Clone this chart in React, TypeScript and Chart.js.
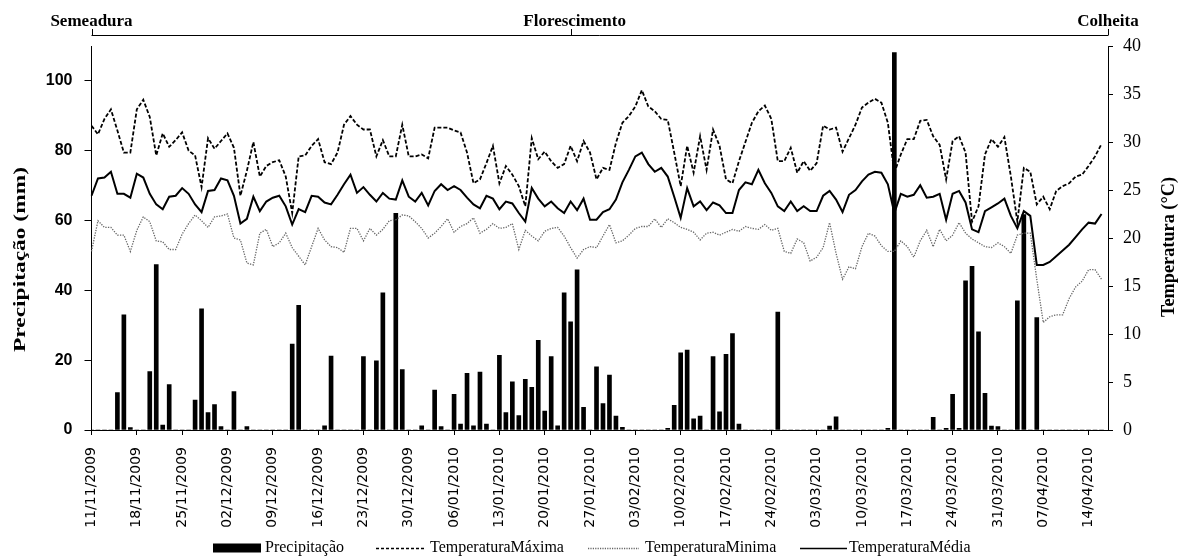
import React, { useEffect, useRef } from 'react';
import { Chart, registerables } from 'chart.js';

Chart.register(...registerables);

// ---- categories (daily, 11/11/2009 .. 17/04/2010) ----
const FIRST_DAY = [2009, 10, 11]; // year, monthIndex, day
const DAY_COUNT = 158;
function buildDateLabels(): string[] {
  const out: string[] = [];
  for (let i = 0; i < DAY_COUNT; i++) {
    const d = new Date(FIRST_DAY[0], FIRST_DAY[1], FIRST_DAY[2] + i);
    const dd = String(d.getDate()).padStart(2, '0');
    const mm = String(d.getMonth() + 1).padStart(2, '0');
    out.push(`${dd}/${mm}/${d.getFullYear()}`);
  }
  return out;
}
const DATE_LABELS = buildDateLabels();
const TICK_EVERY = 7;

// ---- series ----
const PRECIP = [
  0, 0, 0, 0, 10.7, 33.0, 0.7, 0, 0, 16.7,
  47.4, 1.4, 13.0, 0, 0, 0, 8.6, 34.7, 5.0, 7.3,
  1.0, 0, 11.0, 0, 1.0, 0, 0, 0, 0, 0,
  0, 24.6, 35.7, 0, 0, 0, 1.2, 21.2, 0, 0,
  0, 0, 21.0, 0, 19.8, 39.3, 0, 62.1, 17.3, 0,
  0, 1.2, 0, 11.4, 1.0, 0, 10.2, 1.7, 16.2, 1.2,
  16.6, 1.7, 0, 21.4, 5.0, 13.8, 4.1, 14.5, 12.2, 25.7,
  5.4, 21.0, 1.2, 39.3, 31.0, 45.9, 6.5, 0, 18.1, 7.6,
  15.7, 4.0, 0.8, 0, 0, 0, 0, 0, 0, 0.5,
  7.1, 22.1, 22.9, 3.2, 4.0, 0, 21.0, 5.2, 21.7, 27.6,
  1.7, 0, 0, 0, 0, 0, 33.8, 0, 0, 0,
  0, 0, 0, 0, 1.1, 3.8, 0, 0, 0, 0,
  0, 0, 0, 0.5, 108.1, 0, 0, 0, 0, 0,
  3.6, 0, 0.5, 10.2, 0.5, 42.7, 46.9, 28.1, 10.5, 1.1,
  1.0, 0, 0, 37.0, 61.7, 0, 32.2, 0, 0, 0,
  0, 0, 0, 0, 0, 0, 0, null,
];

const TEMP_MAX = [
  31.7, 30.8, 32.4, 33.4, 31.2, 28.9, 28.9, 33.4, 34.4, 32.6,
  28.6, 30.9, 29.5, 30.2, 31.0, 29.1, 28.6, 25.3, 30.4, 29.3,
  30.1, 30.9, 29.4, 24.4, 27.0, 30.0, 26.4, 27.5, 27.9, 28.1,
  26.4, 22.6, 28.5, 28.6, 29.6, 30.3, 27.9, 27.7, 28.9, 31.8,
  32.7, 31.8, 31.3, 31.3, 28.5, 30.2, 28.5, 28.5, 31.8, 28.5,
  28.5, 28.7, 28.3, 31.5, 31.5, 31.5, 31.2, 31.0, 28.9, 25.7,
  26.1, 27.8, 29.6, 25.7, 27.5, 26.6, 25.4, 23.3, 30.4, 28.2,
  29.0, 28.0, 27.3, 27.7, 29.6, 28.0, 30.1, 28.9, 26.1, 27.3,
  27.1, 29.9, 32.0, 32.7, 33.7, 35.4, 33.7, 33.2, 32.4, 32.3,
  28.9, 25.4, 29.6, 26.8, 30.6, 27.1, 31.3, 29.6, 26.1, 25.7,
  28.0, 30.0, 32.0, 33.2, 33.8, 32.4, 28.0, 28.0, 29.4, 26.8,
  28.0, 27.0, 27.8, 31.7, 31.3, 31.5, 29.0, 30.4, 31.8, 33.6,
  34.1, 34.5, 34.1, 32.0, 26.8, 28.7, 30.3, 30.3, 32.2, 32.3,
  30.6, 29.7, 26.1, 30.1, 30.6, 28.9, 21.7, 23.3, 28.7, 30.3,
  29.5, 30.5, 26.4, 21.7, 27.3, 26.9, 23.5, 24.3, 23.0, 24.9,
  25.4, 25.7, 26.4, 26.6, 27.5, 28.5, 29.8, null,
];

const TEMP_MIN = [
  18.6, 21.8, 21.1, 21.1, 20.3, 20.3, 18.6, 20.8, 22.2, 21.7,
  19.7, 19.6, 18.8, 18.8, 20.4, 21.5, 22.4, 21.8, 21.1, 22.2,
  22.3, 22.5, 20.0, 19.8, 17.4, 17.2, 20.5, 20.9, 19.1, 19.5,
  20.5, 19.0, 18.1, 17.2, 19.1, 21.0, 19.8, 19.1, 19.0, 18.5,
  21.0, 21.0, 19.7, 21.0, 20.3, 20.9, 21.8, 21.9, 22.4, 22.3,
  21.7, 21.0, 20.0, 20.5, 21.2, 22.0, 20.6, 21.2, 21.5, 22.1,
  20.5, 20.9, 21.5, 21.0, 21.1, 21.5, 18.8, 20.8, 20.2, 19.7,
  20.7, 21.0, 21.1, 20.2, 19.0, 17.9, 18.8, 19.1, 19.0, 20.2,
  21.4, 19.5, 19.7, 20.3, 21.0, 21.2, 21.2, 22.0, 21.1, 22.0,
  21.6, 21.1, 20.9, 20.6, 19.8, 20.5, 20.6, 20.3, 20.6, 20.9,
  20.7, 21.2, 21.0, 20.9, 21.4, 20.8, 21.0, 18.6, 18.4, 19.9,
  19.5, 17.6, 18.0, 19.0, 21.6, 18.4, 15.7, 17.0, 16.8, 19.1,
  20.5, 20.2, 19.2, 18.6, 18.6, 19.7, 19.1, 18.0, 19.7, 20.8,
  19.1, 20.9, 19.7, 20.3, 21.6, 20.5, 19.9, 19.5, 19.1, 19.0,
  19.5, 19.1, 18.4, 20.3, 20.5, 20.5, 15.7, 11.2, 11.8, 12.0,
  12.0, 13.7, 14.9, 15.5, 16.7, 16.7, 15.7, null,
];

const TEMP_MEAN = [
  24.4, 26.2, 26.3, 26.9, 24.6, 24.6, 24.2, 26.7, 26.3, 24.6,
  23.5, 23.0, 24.3, 24.4, 25.2, 24.6, 23.5, 22.7, 24.9, 25.0,
  26.2, 26.0, 24.4, 21.5, 22.0, 24.3, 22.8, 23.8, 24.2, 24.4,
  23.3, 21.4, 23.0, 22.7, 24.4, 24.3, 23.7, 23.5, 24.5, 25.6,
  26.6, 24.7, 25.3, 24.5, 23.8, 24.7, 24.1, 24.0, 26.0, 24.3,
  23.8, 24.7, 23.4, 24.9, 25.6, 25.0, 25.4, 25.0, 24.2, 23.5,
  23.1, 24.4, 24.1, 23.0, 23.8, 23.6, 22.6, 21.7, 25.2, 24.1,
  23.3, 23.8, 23.1, 22.6, 23.8, 22.9, 24.1, 21.9, 21.9, 22.7,
  23.0, 24.0, 25.8, 27.1, 28.5, 28.9, 27.7, 26.9, 27.3, 26.4,
  24.3, 22.1, 25.2, 23.3, 23.8, 22.9, 23.7, 23.4, 22.6, 22.6,
  25.0, 25.8, 25.6, 27.1, 25.7, 24.7, 23.3, 22.8, 23.8, 22.8,
  23.3, 22.8, 22.8, 24.4, 24.9, 24.0, 22.7, 24.5, 25.0, 25.9,
  26.6, 26.9, 26.8, 25.6, 22.6, 24.6, 24.3, 24.5, 25.5, 24.2,
  24.3, 24.6, 21.9, 24.6, 24.9, 23.7, 20.9, 20.6, 22.8, 23.2,
  23.6, 24.1, 22.3, 21.0, 22.8, 22.3, 17.2, 17.2, 17.5, 18.1,
  18.7, 19.3, 20.1, 20.9, 21.6, 21.5, 22.5, null,
];

// ---- annotations / text ----
const STAGE_NAMES = ['Semeadura', 'Florescimento', 'Colheita'];
const STAGE_INDEX = [0, 74, 157];
const SERIES_NAMES = ['Precipitação', 'TemperaturaMáxima', 'TemperaturaMinima', 'TemperaturaMédia'];
const LEFT_TITLE = 'Precipitação (mm)';
const RIGHT_TITLE = 'Temperatura (°C)';

const SERIF = "'Liberation Serif', 'Times New Roman', serif";
const SANS = "'Liberation Sans', Arial, sans-serif";

function drawRotatedText(ctx: CanvasRenderingContext2D, text: string, cx: number, cy: number, font: string, targetLen: number) {
  ctx.save();
  ctx.translate(cx, cy);
  ctx.rotate(-Math.PI / 2);
  ctx.font = font;
  const w = ctx.measureText(text).width;
  ctx.scale(targetLen / w, 1);
  ctx.textAlign = 'center';
  ctx.textBaseline = 'middle';
  ctx.fillStyle = '#000';
  ctx.fillText(text, 0, 0);
  ctx.restore();
}

const decorPlugin = {
  id: 'decor',
  afterDraw(chart: any) {
    const ctx: CanvasRenderingContext2D = chart.ctx;
    const xs = STAGE_INDEX.map((i) => chart.scales.x.getPixelForValue(i));
    ctx.save();
    // stage bracket
    ctx.strokeStyle = '#000';
    ctx.lineWidth = 1;
    ctx.setLineDash([]);
    ctx.beginPath();
    ctx.moveTo(xs[0], 35.5);
    ctx.lineTo(xs[2], 35.5);
    xs.forEach((px) => {
      ctx.moveTo(Math.round(px) + 0.5, 35.5);
      ctx.lineTo(Math.round(px) + 0.5, 29);
    });
    ctx.stroke();
    ctx.fillStyle = '#000';
    ctx.font = `bold 17px ${SERIF}`;
    ctx.textAlign = 'center';
    ctx.textBaseline = 'alphabetic';
    STAGE_NAMES.forEach((s, k) => ctx.fillText(s, xs[k] + (k === 1 ? 4 : 0), 26));

    // axis titles
    drawRotatedText(ctx, LEFT_TITLE, 20.8, 259.5, `bold 17px ${SERIF}`, 185);
    drawRotatedText(ctx, RIGHT_TITLE, 1169, 247, `bold 18px ${SERIF}`, 140);

    // legend
    const ly = 548;
    ctx.font = `16px ${SERIF}`;
    ctx.textAlign = 'left';
    ctx.textBaseline = 'middle';
    ctx.fillStyle = '#000';
    ctx.fillRect(213, 543.5, 48, 9);
    ctx.fillText(SERIES_NAMES[0], 265, ly);

    ctx.strokeStyle = '#000';
    ctx.lineWidth = 1.5;
    ctx.setLineDash([3, 2]);
    ctx.beginPath();
    ctx.moveTo(376, ly + 0.5);
    ctx.lineTo(424, ly + 0.5);
    ctx.stroke();
    ctx.fillText(SERIES_NAMES[1], 430, ly);

    ctx.strokeStyle = '#666';
    ctx.lineWidth = 1.3;
    ctx.setLineDash([1.2, 1.2]);
    ctx.beginPath();
    ctx.moveTo(588, ly + 0.5);
    ctx.lineTo(639, ly + 0.5);
    ctx.stroke();
    ctx.fillText(SERIES_NAMES[2], 645, ly);

    ctx.strokeStyle = '#000';
    ctx.lineWidth = 1.7;
    ctx.setLineDash([]);
    ctx.beginPath();
    ctx.moveTo(800, ly + 0.5);
    ctx.lineTo(847, ly + 0.5);
    ctx.stroke();
    ctx.fillText(SERIES_NAMES[3], 849, ly);
    ctx.restore();
  },
};

export default function App() {
  const ref = useRef<HTMLCanvasElement | null>(null);

  useEffect(() => {
    document.body.style.margin = '0';
    document.body.style.overflow = 'hidden';
    const canvas = ref.current;
    if (!canvas) return;
    const chart = new Chart(canvas, {
      type: 'bar',
      data: {
        labels: DATE_LABELS,
        datasets: [
          {
            type: 'line',
            label: SERIES_NAMES[3],
            data: TEMP_MEAN,
            yAxisID: 'y2',
            borderColor: '#000',
            borderWidth: 2,
            pointRadius: 0,
            tension: 0,
            fill: false,
            order: 1,
          },
          {
            type: 'line',
            label: SERIES_NAMES[1],
            data: TEMP_MAX,
            yAxisID: 'y2',
            borderColor: '#000',
            borderWidth: 1.8,
            borderDash: [4, 2],
            pointRadius: 0,
            tension: 0,
            fill: false,
            order: 1,
          },
          {
            type: 'line',
            label: SERIES_NAMES[2],
            data: TEMP_MIN,
            yAxisID: 'y2',
            borderColor: '#666',
            borderWidth: 1.3,
            borderDash: [1.3, 1.3],
            pointRadius: 0,
            tension: 0,
            fill: false,
            order: 1,
          },
          {
            type: 'bar',
            label: SERIES_NAMES[0],
            data: PRECIP,
            yAxisID: 'y',
            backgroundColor: '#000',
            borderWidth: 0,
            barThickness: 4,
            order: 2,
          },
        ],
      } as any,
      options: {
        animation: false,
        responsive: false,
        devicePixelRatio: 1,
        layout: { padding: { top: 46, left: 0, right: 0, bottom: 0 } },
        plugins: {
          legend: { display: false },
          tooltip: { enabled: false },
        },
        scales: {
          x: {
            type: 'category',
            offset: false,
            grid: { drawOnChartArea: false, drawTicks: true, tickLength: 5, color: '#000', offset: false },
            border: { color: '#000', width: 1 },
            ticks: {
              autoSkip: false,
              maxRotation: 90,
              minRotation: 90,
              padding: 12,
              color: '#000',
              font: { family: "'DejaVu Sans', Verdana, sans-serif", size: 14 },
              callback: (_v: any, i: number) => (i % TICK_EVERY === 0 ? DATE_LABELS[i] : null),
            },
            afterFit: (s: any) => {
              s.height = 128;
            },
          },
          y: {
            type: 'linear',
            position: 'left',
            min: 0,
            max: 110,
            grid: { drawOnChartArea: false, tickLength: 7, color: '#000' },
            border: { color: '#000', width: 1 },
            ticks: {
              stepSize: 20,
              padding: 12,
              color: '#000',
              font: { family: SANS, size: 16, weight: 'bold' },
              callback: (v: any) => (v > 100 ? null : v),
            },
            afterFit: (s: any) => {
              s.width = 91.5;
            },
          },
          y2: {
            type: 'linear',
            position: 'right',
            min: 0,
            max: 40,
            grid: { drawOnChartArea: false, tickLength: 5, color: '#000' },
            border: { color: '#000', width: 1 },
            ticks: {
              stepSize: 5,
              padding: 10,
              color: '#000',
              font: { family: SERIF, size: 18 },
            },
            afterFit: (s: any) => {
              s.width = 79;
            },
          },
        },
      } as any,
      plugins: [decorPlugin],
    });
    return () => chart.destroy();
  }, []);

  return (
    <div style={{ width: 1187, height: 558 }}>
      <canvas ref={ref} width={1187} height={558} style={{ display: 'block' }} />
    </div>
  );
}
